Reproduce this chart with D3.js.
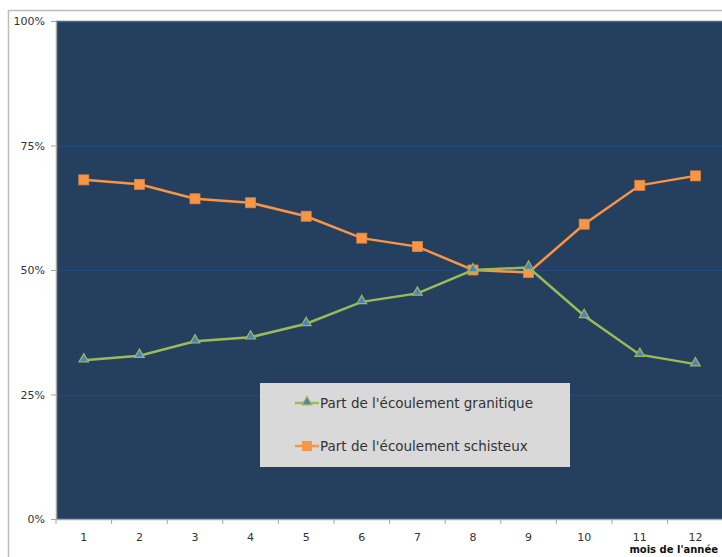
<!DOCTYPE html>
<html>
<head>
<meta charset="utf-8">
<script src="https://cdn.jsdelivr.net/npm/d3@7"></script>
<style>
  html, body { margin: 0; padding: 0; background: #fff; overflow: hidden; }
  svg { display: block; font-family: "DejaVu Sans", sans-serif; }
</style>
</head>
<body>
<svg id="chart" width="722" height="557"></svg>
<script>
// Monthly share of runoff (%) from granitic vs. schist catchments
const months = [1, 2, 3, 4, 5, 6, 7, 8, 9, 10, 11, 12];
const granitique = [31.9, 32.8, 35.7, 36.5, 39.2, 43.6, 45.3, 50.0, 50.5, 40.8, 33.0, 31.1];
const schisteux  = [68.1, 67.2, 64.3, 63.5, 60.8, 56.4, 54.7, 50.0, 49.5, 59.2, 67.0, 68.9];
const yTicks = [0, 25, 50, 75, 100];
const seriesNames = ["Part de l'écoulement granitique", "Part de l'écoulement schisteux"];

const svg = d3.select("#chart");
const plotLeft = 56, plotTop = 21, plotBottom = 519, bandW = 55.6;
const plotRight = plotLeft + bandW * months.length;

// outer chart frame
svg.append("rect").attr("x", 8.5).attr("y", 10.5).attr("width", 760).attr("height", 600)
  .attr("fill", "#fff").attr("stroke", "#BDBDBD").attr("stroke-width", 1.5);

const x = d3.scaleBand().domain(months).range([plotLeft, plotRight]).padding(0);
const y = d3.scaleLinear().domain([0, 100]).range([plotBottom, plotTop]);

// plot area
svg.append("rect").attr("x", plotLeft).attr("y", plotTop).attr("width", plotRight - plotLeft).attr("height", plotBottom - plotTop)
  .attr("fill", "#253F5F");
svg.append("line").attr("x1", plotLeft).attr("x2", plotRight).attr("y1", plotTop + 0.5).attr("y2", plotTop + 0.5)
  .attr("stroke", "#3C6796").attr("stroke-width", 1.5);

// horizontal gridlines
svg.append("g").selectAll("line").data(yTicks.filter(d => d > 0 && d < 100)).join("line")
  .attr("x1", plotLeft).attr("x2", plotRight)
  .attr("y1", d => Math.round(y(d)) + 0.5).attr("y2", d => Math.round(y(d)) + 0.5)
  .attr("stroke", "#1E4A7E").attr("stroke-width", 1);

// y axis
const yAxis = svg.append("g").attr("transform", `translate(${plotLeft},0)`)
  .call(d3.axisLeft(y).tickValues(yTicks).tickFormat(d => d + "%").tickSize(5).tickSizeOuter(0));
yAxis.select(".domain").attr("stroke", "#A6A6A6").attr("stroke-width", 1.5);
yAxis.selectAll(".tick line").attr("stroke", "#A6A6A6");
yAxis.selectAll("text").attr("font-size", 11).attr("fill", "#333").attr("x", -11)
  .attr("font-family", "'DejaVu Sans', sans-serif");

// x axis: ticks between categories
const xAxisG = svg.append("g").attr("transform", `translate(0,${plotBottom})`);
xAxisG.append("line").attr("x1", plotLeft).attr("x2", plotRight).attr("y1", 0.5).attr("y2", 0.5)
  .attr("stroke", "#A6A6A6").attr("stroke-width", 1.5);
xAxisG.selectAll(".tk").data(months).join("line").attr("class", "tk")
  .attr("x1", d => x(d)).attr("x2", d => x(d)).attr("y1", 0).attr("y2", 5)
  .attr("stroke", "#A6A6A6");
xAxisG.selectAll(".lbl").data(months).join("text").attr("class", "lbl")
  .attr("x", d => x(d) + x.bandwidth() / 2).attr("y", 22)
  .attr("text-anchor", "middle").attr("font-size", 11).attr("fill", "#333").text(d => d);

svg.append("text").attr("x", 718).attr("y", 553).attr("text-anchor", "end")
  .attr("font-size", 10).attr("font-weight", "bold").attr("fill", "#111").text("mois de l'année");

const cx = d => x(d) + x.bandwidth() / 2;
const line = d3.line().x((d, i) => cx(months[i])).y(d => y(d));

// schist series (orange squares)
svg.append("path").datum(schisteux).attr("d", line).attr("fill", "none")
  .attr("stroke", "#F79646").attr("stroke-width", 2.5);
svg.append("g").selectAll("rect").data(schisteux).join("rect")
  .attr("x", (d, i) => cx(months[i]) - 5).attr("y", d => y(d) - 5)
  .attr("width", 10).attr("height", 10).attr("fill", "#F79646").attr("stroke", "#E5853A").attr("stroke-width", 0.8);

// granitic series (green line, blue triangles)
const tri = d3.symbol().type(d3.symbolTriangle).size(40);
svg.append("path").datum(granitique).attr("d", line).attr("fill", "none")
  .attr("stroke", "#9BBB59").attr("stroke-width", 2.5);
svg.append("g").selectAll("path").data(granitique).join("path")
  .attr("d", tri).attr("transform", (d, i) => `translate(${cx(months[i])},${y(d) - 1})`)
  .attr("fill", "#4F81BD").attr("stroke", "#9BBB59").attr("stroke-width", 1.2);

// legend
const lg = svg.append("g");
lg.append("rect").attr("x", 260).attr("y", 383).attr("width", 310).attr("height", 84).attr("fill", "#D9D9D9");
const rows = [
  { name: seriesNames[0], color: "#9BBB59", y: 403, marker: "tri" },
  { name: seriesNames[1], color: "#F79646", y: 446, marker: "sq" }
];
rows.forEach(r => {
  lg.append("line").attr("x1", 295).attr("x2", 319).attr("y1", r.y).attr("y2", r.y)
    .attr("stroke", r.color).attr("stroke-width", 2.5);
  if (r.marker === "tri") {
    lg.append("path").attr("d", tri).attr("transform", `translate(307,${r.y - 1})`)
      .attr("fill", "#4F81BD").attr("stroke", "#9BBB59").attr("stroke-width", 1.2);
  } else {
    lg.append("rect").attr("x", 302).attr("y", r.y - 5).attr("width", 10).attr("height", 10).attr("fill", "#F79646");
  }
  lg.append("text").attr("x", 320).attr("y", r.y + 5).attr("font-size", 13.5).attr("fill", "#333").text(r.name);
});
</script>
</body>
</html>
